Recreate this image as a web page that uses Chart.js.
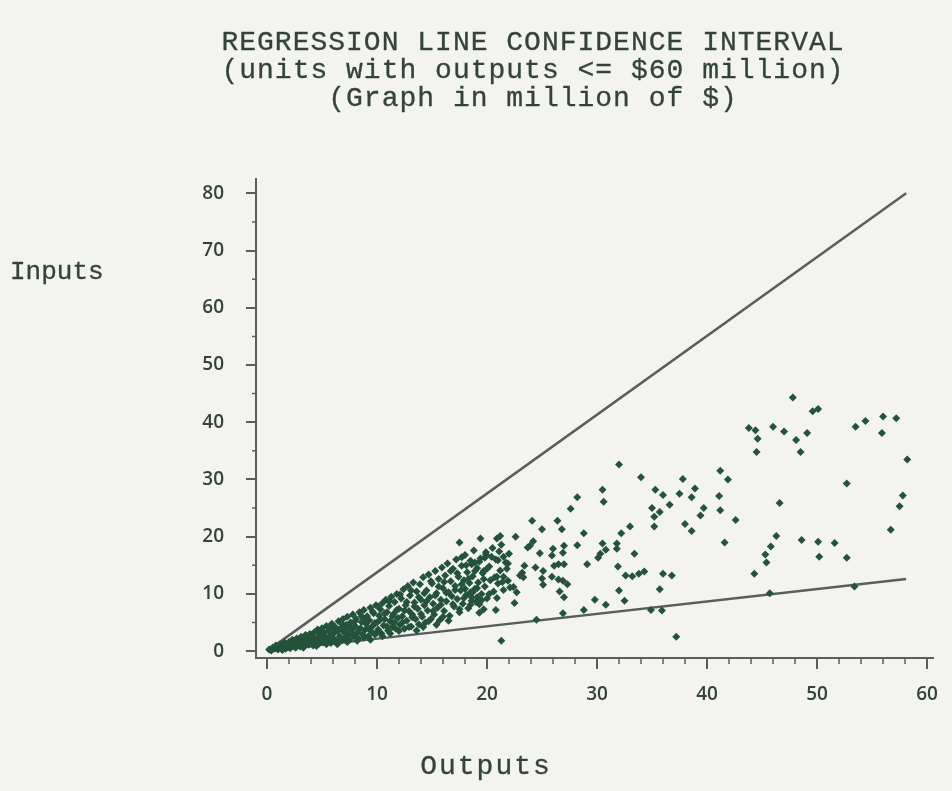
<!DOCTYPE html>
<html>
<head>
<meta charset="utf-8">
<script src="https://cdn.jsdelivr.net/npm/chart.js@4/dist/chart.umd.min.js"></script>
<style>
  html, body { margin: 0; padding: 0; background: #f3f4f1; }
  #wrap { width: 952px; height: 791px; position: relative; }
</style>
</head>
<body>
<div id="wrap"><canvas id="myChart" width="952" height="791"></canvas></div>
<script>
// data (million $)
const titleLines = [
  "REGRESSION LINE CONFIDENCE INTERVAL",
  "(units with outputs <= $60 million)",
  "(Graph in million of $)"
];
const xTitle = "Outputs";
const yTitle = "Inputs";

const xTicks = [0, 10, 20, 30, 40, 50, 60];
const yTicks = [0, 10, 20, 30, 40, 50, 60, 70, 80];

// confidence band lines
const bandX = [0, 58.1];
const upperBand = [0, 80];
const lowerBand = [0, 12.6];

// units (outputs, inputs) - sparse part
const outputs = [
  47.8,49.6,50.1,43.8,44.4,44.6,44.5,46.0,47.0,48.1,49.1,48.5,53.5,54.4,56.0,57.2,55.9,58.2,52.7,57.8,
  57.5,56.7,46.6,41.2,41.9,41.1,41.2,42.6,41.6,46.3,45.8,45.3,45.4,44.3,48.6,50.1,51.6,50.2,52.7,32.0,
  34.0,37.8,38.9,35.3,36.0,37.5,38.6,36.6,35.0,35.7,35.2,35.2,39.7,39.4,38.0,38.6,30.5,30.6,28.2,27.6,
  33.0,32.2,33.4,31.9,32.0,32.5,29.8,30.8,32.6,33.2,33.8,34.3,36.0,36.8,35.7,34.9,35.9,37.2,28.8,26.9,
  24.5,45.7,53.4,29.1,28.2,28.8,30.5,30.3,30.8,30.1,31.8,31.8,24.1,25.0,26.4,26.8,24.2,23.9,24.8,26.0,
  25.9,27.0,26.9,26.1,26.5,27.0,24.4,25.1,25.0,25.1,25.9,26.5,26.9,27.3,26.6,27.0,23.4,23.0,23.3,22.4,
  22.7,22.5,22.6,23.7,17.5,19.4,20.9,21.2,17.7,19.9,19.8,18.6,18.9,19.7,21.0,21.9,21.5,20.9,23.2,18.0,
  18.5,19.1,18.6,19.3,19.3,19.7,20.8,21.3,21.5
];
const inputs = [
  44.3,41.9,42.3,39.0,38.6,37.1,34.8,39.2,38.4,36.9,38.1,34.8,39.2,40.2,41.0,40.7,38.1,33.5,29.3,27.2,
  25.3,21.2,25.9,31.5,30.0,27.1,24.6,22.9,19.0,20.1,18.3,16.9,15.5,13.5,19.4,19.1,18.9,16.5,16.3,32.6,
  30.4,30.1,28.4,28.2,27.3,27.5,26.9,25.6,25.0,24.3,23.5,21.8,25.0,23.7,22.2,21.0,28.2,26.1,26.9,24.9,
  21.8,20.6,17.0,14.8,10.6,8.8,9.0,8.1,13.2,13.1,13.5,13.9,13.5,13.2,10.8,7.2,7.1,2.5,7.2,6.6,
  5.5,10.1,11.3,15.2,18.5,20.6,18.8,17.0,17.7,16.3,18.8,17.9,22.8,21.3,22.8,21.3,19.2,18.4,17.1,17.9,
  16.7,18.4,17.2,14.9,15.2,15.2,14.6,14.0,12.7,11.6,13.0,12.5,12.3,11.7,10.4,9.4,14.9,13.2,12.9,11.2,
  10.3,8.4,20.0,18.1,19.0,19.7,19.7,20.1,16.4,16.9,16.3,15.2,15.5,14.0,15.9,15.3,13.0,13.0,13.7,10.9,
  10.3,9.4,8.8,8.2,6.7,7.3,7.2,1.8,16.5
];

// units (outputs, inputs) - dense part near the origin
const outputsDense = [
  0.2,0.4,0.5,0.7,0.8,1.0,1.1,1.2,1.3,1.5,1.6,1.7,1.8,1.9,2.0,
  2.1,2.2,2.3,2.4,2.5,2.6,2.7,2.8,2.9,3.0,3.1,3.2,3.3,3.4,3.5,3.6,3.7,3.8,3.9,4.0,
  4.1,4.2,4.3,4.4,4.5,4.6,4.7,4.8,4.9,5.0,5.1,5.2,5.3,5.4,5.5,5.6,5.7,5.8,5.9,6.0,
  6.1,6.2,6.3,6.4,6.5,6.6,6.7,6.8,6.9,7.0,7.1,7.2,7.3,7.4,7.5,7.6,7.7,7.8,7.9,8.0,
  8.1,8.2,8.3,8.4,8.5,8.6,8.7,8.8,8.9,9.0,9.1,9.2,9.3,9.4,9.5,9.6,9.7,9.8,9.9,10.0,
  10.1,10.2,10.3,10.4,10.5,10.6,10.7,10.8,10.9,11.0,11.1,11.2,11.3,11.4,11.5,11.6,11.7,11.8,11.9,12.0,
  12.1,12.2,12.3,12.4,12.5,12.6,12.7,12.8,12.9,13.0,13.1,13.2,13.3,13.4,13.5,13.6,13.7,13.8,13.9,14.0,
  14.1,14.2,14.3,14.4,14.5,14.6,14.7,14.8,14.9,15.0,15.1,15.2,15.3,15.4,15.5,15.6,15.7,15.8,15.9,16.0,
  16.1,16.2,16.3,16.4,16.5,16.6,16.7,16.8,16.9,17.0,17.1,17.2,17.3,17.4,17.5,17.6,17.7,17.8,17.9,18.0,
  18.1,18.2,18.3,18.4,18.5,18.6,18.7,18.8,18.9,19.0,19.1,19.2,19.4,19.5,19.6,19.8,19.9,20.0,
  20.2,20.3,20.5,20.6,20.8,21.0,21.2,21.3,21.5,21.7,21.9,22.0,
  1.4,2.0,2.6,3.0,3.3,3.6,4.0,4.2,4.5,4.8,5.1,5.4,5.7,5.9,6.2,6.4,6.7,6.9,7.1,7.3,
  7.6,7.8,8.0,8.2,8.4,8.6,8.8,9.0,9.2,9.4,9.6,9.8,10.0,10.1,10.3,10.5,10.7,10.9,11.1,11.2,
  11.4,11.6,11.8,12.0,12.1,12.3,12.5,12.7,12.9,13.1,13.2,13.4,13.6,13.8,14.0,14.2,14.3,14.5,14.7,14.9,
  15.1,15.3,15.4,15.6,15.8,16.0,16.1,16.3,16.5,16.7,16.9,17.1,17.3,17.5,17.7,17.9,18.1,18.3,18.5,18.7,
  18.9,19.1,19.3,19.5,19.7,20.0,20.2,20.4,20.7,20.9,21.1,21.4,21.8,22.1
];
const inputsDense = [
  0.3,0.1,0.6,0.4,1.0,0.3,0.7,1.2,0.5,0.9,1.5,0.4,1.1,0.7,1.6,
  0.5,1.2,2.0,0.9,1.5,0.6,2.2,1.1,1.8,0.8,2.5,1.4,2.0,0.9,2.8,1.6,2.3,1.1,3.0,1.8,
  2.5,1.0,3.3,1.5,2.2,3.8,1.3,2.9,2.0,4.0,1.6,3.2,2.4,4.4,1.9,3.6,2.7,1.4,4.8,3.0,
  2.1,4.2,1.7,3.5,5.2,2.6,4.0,1.9,5.6,3.3,2.3,4.6,6.0,3.0,2.0,5.0,3.8,6.4,2.6,4.4,
  5.6,3.3,2.2,6.8,4.0,5.1,2.9,7.2,3.7,4.8,6.1,2.6,5.4,7.6,3.4,4.4,6.6,2.9,8.0,5.0,
  3.8,6.2,7.3,3.1,8.4,4.5,5.6,9.0,6.8,3.6,7.9,5.2,9.5,4.2,6.5,8.6,3.9,10.0,5.8,7.4,
  4.6,9.2,6.1,10.8,3.9,8.0,5.3,11.4,7.0,9.7,4.3,6.4,12.0,8.5,5.6,10.4,7.4,4.7,11.7,9.0,
  6.0,12.9,8.0,5.0,10.6,7.1,13.4,9.4,5.6,11.8,8.3,6.4,14.0,10.1,7.6,12.6,5.4,9.0,14.6,11.0,
  7.0,13.2,8.7,15.3,10.3,6.2,12.2,9.6,14.4,7.8,11.4,16.0,9.1,13.0,6.8,10.6,14.9,8.3,12.4,16.8,
  9.8,13.8,7.5,11.9,15.8,9.4,13.1,17.6,10.9,8.6,14.5,12.0,16.2,10.0,13.6,11.3,17.3,9.2,
  14.8,12.4,18.0,10.4,16.0,11.8,14.1,18.6,10.7,15.5,12.3,17.0,
  0.2,0.9,1.3,1.7,0.6,2.6,2.4,1.6,0.9,3.5,2.7,1.2,3.9,2.2,3.6,1.2,2.1,4.6,3.7,1.6,
  4.1,2.9,5.2,1.8,3.8,6.1,2.4,5.6,4.0,2.0,6.9,4.9,3.2,7.8,5.5,2.6,6.6,4.3,8.7,3.1,
  6.1,5.0,7.2,3.5,9.9,5.0,7.1,8.6,4.2,10.6,5.9,7.8,3.6,9.4,6.5,4.2,10.1,8.7,5.2,12.2,
  7.0,9.7,4.6,11.3,8.1,6.0,12.1,10.2,5.3,14.0,8.2,10.7,13.6,7.3,11.7,9.3,15.0,12.6,8.1,10.3,
  14.0,11.0,15.6,8.9,12.6,14.4,10.0,16.5,12.9,9.3,17.4,12.1,14.4,11.1
];

const ink = '#34433a';
const dotColor = '#24523a';
const lineColor = '#575f5a';
const monoFont = '"Liberation Mono", "DejaVu Sans Mono", monospace';

const points = outputs.map((x, i) => ({ x, y: inputs[i] }))
  .concat(outputsDense.map((x, i) => ({ x, y: inputsDense[i] })));

// background, titles and minor ticks
const paperPlugin = {
  id: 'paper',
  beforeDraw(c) {
    const g = c.ctx;
    g.save();
    g.fillStyle = '#f3f4f1';
    g.fillRect(0, 0, c.width, c.height);
    g.restore();
  },
  afterDraw(c) {
    const g = c.ctx;
    const xs = c.scales.x, ys = c.scales.y;
    g.save();
    g.fillStyle = ink;
    g.strokeStyle = ink;
    g.lineWidth = 0.3;
    g.textAlign = 'center';
    g.textBaseline = 'middle';
    g.font = '28px ' + monoFont;
    g.letterSpacing = '1px';
    titleLines.forEach((t, i) => {
      g.fillText(t, 533, 43 + i * 28);
      g.strokeText(t, 533, 43 + i * 28);
    });
    g.letterSpacing = '2px';
    g.fillText(xTitle, 486, 767);
    g.strokeText(xTitle, 486, 767);
    g.letterSpacing = '0px';
    g.font = '26px ' + monoFont;
    g.textAlign = 'left';
    g.fillText(yTitle, 10, 272);
    g.strokeText(yTitle, 10, 272);

    // minor tick marks
    g.strokeStyle = lineColor;
    g.lineWidth = 1.5;
    g.beginPath();
    for (let v = 2; v < 60; v += 2) {
      if (v % 10 === 0) continue;
      const px = xs.getPixelForValue(v);
      g.moveTo(px, xs.top);
      g.lineTo(px, xs.top + 6);
    }
    for (let v = 5; v < 80; v += 10) {
      const py = ys.getPixelForValue(v);
      g.moveTo(ys.right, py);
      g.lineTo(ys.right - 4, py);
    }
    g.stroke();
    g.restore();
  }
};

const ctx = document.getElementById('myChart').getContext('2d');
new Chart(ctx, {
  type: 'scatter',
  data: {
    datasets: [
      {
        label: 'Units',
        data: points,
        pointStyle: 'rectRot',
        pointRadius: 4,
        pointBackgroundColor: dotColor,
        pointBorderWidth: 0,
        showLine: false
      },
      {
        label: 'Upper bound',
        data: bandX.map((x, i) => ({ x, y: upperBand[i] })),
        showLine: true,
        borderColor: lineColor,
        borderWidth: 2.5,
        pointRadius: 0
      },
      {
        label: 'Lower bound',
        data: bandX.map((x, i) => ({ x, y: lowerBand[i] })),
        showLine: true,
        borderColor: lineColor,
        borderWidth: 2.5,
        pointRadius: 0
      }
    ]
  },
  plugins: [paperPlugin],
  options: {
    responsive: false,
    animation: false,
    layout: { padding: { top: 179, right: 11.5, bottom: 0, left: 0 } },
    plugins: { legend: { display: false }, tooltip: { enabled: false }, title: { display: false } },
    scales: {
      x: {
        type: 'linear',
        min: -1,
        max: 60.5,
        afterBuildTicks: s => { s.ticks = xTicks.map(v => ({ value: v })); },
        afterFit: s => { s.height = 133; },
        border: { display: true, color: lineColor, width: 2 },
        grid: { drawOnChartArea: false, drawTicks: true, tickLength: 11, color: lineColor, lineWidth: 2 },
        ticks: { color: ink, padding: 14, maxRotation: 0, font: { family: '"Open Sans", sans-serif', size: 19, weight: '600' } }
      },
      y: {
        type: 'linear',
        min: -1.2,
        max: 82.5,
        afterBuildTicks: s => { s.ticks = yTicks.map(v => ({ value: v })); },
        afterFit: s => { s.width = 256; },
        border: { display: true, color: lineColor, width: 2 },
        grid: { drawOnChartArea: false, drawTicks: true, tickLength: 10, color: lineColor, lineWidth: 2 },
        ticks: { color: ink, padding: 22, font: { family: '"Open Sans", sans-serif', size: 19, weight: '600' } }
      }
    }
  }
});
</script>
</body>
</html>
